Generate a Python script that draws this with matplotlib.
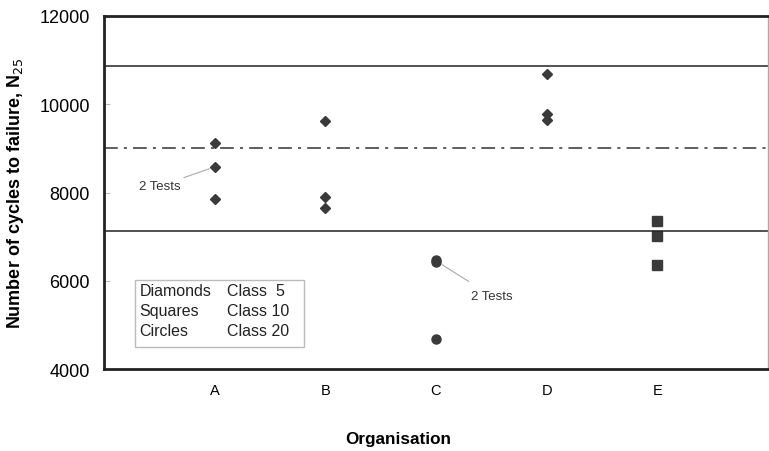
import matplotlib.pyplot as plt

plt.rcParams['font.family'] = ['Liberation Sans', 'DejaVu Sans']

""" Data read from the chart """
orgs = ['A', 'B', 'C', 'D', 'E']
diamond_org = ['A', 'A', 'A', 'B', 'B', 'B', 'D', 'D', 'D']
diamond_n = [9120, 8580, 7850, 9630, 7900, 7640, 10690, 9770, 9650]
square_org = ['E', 'E', 'E']
square_n = [7360, 7020, 6360]
circle_org = ['C', 'C', 'C']
circle_n = [6470, 6430, 4680]
upper_limit = 10860
mean_line = 9000
lower_limit = 7120
legend_rows = [('Diamonds', 'Class  5'), ('Squares', 'Class 10'), ('Circles', 'Class 20')]

xpos = {o: i + 1 for i, o in enumerate(orgs)}

fig = plt.figure(figsize=(7.69, 4.52), dpi=100)
ax = fig.add_axes([0.1352, 0.1814, 0.8635, 0.781])

mk = '#3a3a3a'
ax.plot([xpos[o] for o in diamond_org], diamond_n, 'D', color=mk, ms=5.2, ls='none')
ax.plot([xpos[o] for o in square_org], square_n, 's', color=mk, ms=6.5, ls='none')
ax.plot([xpos[o] for o in circle_org], circle_n, 'o', color=mk, ms=6.5, ls='none')

ax.axhline(upper_limit, color='#222222', lw=1.1)
ax.axhline(lower_limit, color='#222222', lw=1.1)
ax.axhline(mean_line, color='#333333', lw=1.1, dashes=(9, 4, 2, 4))

ax.set_xlim(0, 6)
ax.set_ylim(4000, 12000)
ax.set_yticks([4000, 6000, 8000, 10000, 12000])
ax.set_xticks([xpos[o] for o in orgs])
ax.set_xticklabels(orgs, fontsize=10.5)
ax.tick_params(axis='x', length=0, pad=10)
ax.tick_params(axis='y', direction='in', length=4, color='#bbbbbb', labelsize=13, pad=10)
for s in ax.spines.values():
    s.set_linewidth(2)
    s.set_color('#222222')
ax.spines['right'].set_linewidth(1)
ax.spines['right'].set_color('#aaaaaa')

ax.set_ylabel('Number of cycles to failure, N$_{25}$', fontsize=13, fontweight='bold', labelpad=10)
ax.set_xlabel('Organisation', fontsize=12.3, fontweight='bold')
ax.xaxis.set_label_coords(0.443, -0.176)

# "2 Tests" notes
ax.annotate('2 Tests', xy=(1, 8580), xytext=(0.32, 8150), fontsize=9.5, color='#333333',
            va='center', arrowprops=dict(arrowstyle='-', color='#aaaaaa', lw=0.8,
                                         shrinkA=0, shrinkB=4))
ax.annotate('2 Tests', xy=(3, 6450), xytext=(3.32, 5650), fontsize=9.5, color='#333333',
            va='center', arrowprops=dict(arrowstyle='-', color='#aaaaaa', lw=0.8,
                                         shrinkA=8, shrinkB=5))

# class key box
box = plt.Rectangle((0.28, 4500), 1.53, 1510, fill=False, ec='#bbbbbb', lw=1)
ax.add_patch(box)
for i, (a, b) in enumerate(legend_rows):
    yy = 5780 - i * 453
    ax.text(0.32, yy, a, fontsize=11.5, va='center', color='#222222')
    ax.text(1.11, yy, b, fontsize=11.5, va='center', color='#222222')

fig.savefig('out.png', dpi=100)
